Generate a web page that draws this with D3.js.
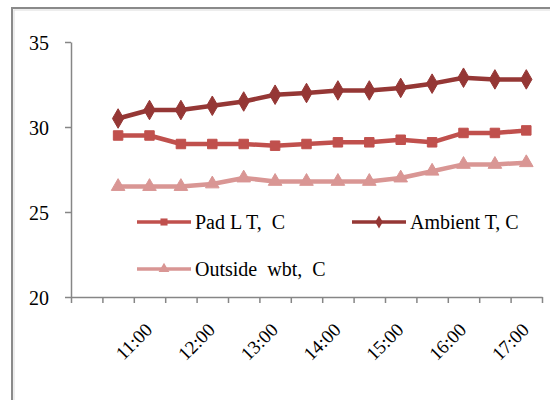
<!DOCTYPE html>
<html>
<head>
<meta charset="utf-8">
<script src="https://cdn.jsdelivr.net/npm/d3@7"></script>
<style>
  body { margin: 0; background: #fff; }
  svg text { font-family: "Liberation Serif", "Times New Roman", serif; fill: #000; }
</style>
</head>
<body>
<svg id="chart" width="550" height="400"></svg>
<script>
// Categories (half-hour steps, first slot empty)
const times = ["", "10:30", "11:00", "11:30", "12:00", "12:30", "13:00", "13:30",
  "14:00", "14:30", "15:00", "15:30", "16:00", "16:30", "17:00"];

// Series values, 10:30 .. 17:00
const padLT = [29.5, 29.5, 29.0, 29.0, 29.0, 28.9, 29.0, 29.1, 29.1, 29.25, 29.1, 29.65, 29.65, 29.8];
const ambientT = [30.5, 31.0, 31.0, 31.25, 31.5, 31.9, 32.0, 32.15, 32.15, 32.3, 32.55, 32.9, 32.8, 32.8];
const outsideWbt = [26.5, 26.5, 26.5, 26.65, 27.0, 26.8, 26.8, 26.8, 26.8, 27.0, 27.4, 27.8, 27.8, 27.9];

const yTicks = [20, 25, 30, 35];

const serif = "Liberation Serif, Times New Roman, serif";

const series = [
  { name: "Pad L T,  C", values: padLT, color: "#C0504D", marker: d3.symbolSquare, size: 90, lsize: 50 },
  { name: "Ambient T, C", values: ambientT, color: "#953735", marker: d3.symbolDiamond, size: 110, lsize: 50 },
  { name: "Outside  wbt,  C", values: outsideWbt, color: "#D99694", marker: d3.symbolTriangle, size: 80, lsize: 50 }
];

const plot = { left: 71, right: 542, top: 42, bottom: 297 };

const svg = d3.select("#chart");

// chart frame (runs past the right and bottom edges)
svg.append("rect")
  .attr("x", 12).attr("y", 8)
  .attr("width", 600).attr("height", 500)
  .attr("fill", "none")
  .attr("stroke", "#8a8a8a")
  .attr("stroke-width", 2);
svg.append("rect")
  .attr("x", 14).attr("y", 10)
  .attr("width", 600).attr("height", 500)
  .attr("fill", "none")
  .attr("stroke", "#dcdcdc")
  .attr("stroke-width", 1);

const x = d3.scaleBand()
  .domain(times)
  .range([plot.left, plot.right]);

const y = d3.scaleLinear()
  .domain([20, 35])
  .range([plot.bottom, plot.top]);

const cx = (t) => x(t) + x.bandwidth() / 2;

// y axis
const yAxis = svg.append("g")
  .attr("transform", "translate(" + plot.left + ",0)")
  .call(d3.axisLeft(y).tickValues(yTicks).tickSize(6).tickSizeOuter(0).tickPadding(16))
  .attr("font-family", serif)
  .attr("font-size", 20);
yAxis.selectAll("path, line").attr("stroke", "#868686").attr("stroke-width", 1.5);
yAxis.selectAll("text").attr("fill", "#000").attr("dy", "0.35em");

// x axis: tick marks on category boundaries
const xEdge = d3.scaleLinear().domain([0, times.length]).range([plot.left, plot.right]);
const xAxis = svg.append("g")
  .attr("transform", "translate(0," + plot.bottom + ")")
  .call(d3.axisBottom(xEdge).tickValues(d3.range(times.length + 1)).tickSize(6).tickSizeOuter(0).tickFormat(""));
xAxis.selectAll("path, line").attr("stroke", "#868686").attr("stroke-width", 1.5);

// rotated hour labels
svg.append("g")
  .attr("font-family", serif)
  .attr("font-size", 19)
  .selectAll(".xlab")
  .data(times.filter((t) => t.endsWith(":00")))
  .enter()
  .append("text")
  .attr("class", "xlab")
  .attr("transform", (t) => "translate(" + (cx(t) + 4) + "," + (plot.bottom + 34) + ") rotate(-45)")
  .attr("text-anchor", "end")
  .text((t) => t);

// lines and markers
const dataTimes = times.slice(1);
const line = d3.line()
  .x((d) => cx(d.t))
  .y((d) => y(d.v));

series.forEach((s) => {
  const pts = s.values.map((v, i) => ({ t: dataTimes[i], v: v }));
  svg.append("path")
    .datum(pts)
    .attr("d", line)
    .attr("fill", "none")
    .attr("stroke", s.color)
    .attr("stroke-width", 4.5)
    .attr("stroke-linejoin", "round");
  svg.append("g").selectAll("path")
    .data(pts)
    .enter()
    .append("path")
    .attr("d", d3.symbol().type(s.marker).size(s.size))
    .attr("transform", (d) => "translate(" + cx(d.t) + "," + y(d.v) + ")")
    .attr("fill", s.color)
    .attr("stroke", s.color)
    .attr("stroke-width", 1);
});

// legend
const legendPos = [
  { x: 137, y: 222 },
  { x: 352, y: 222 },
  { x: 137, y: 269 }
];

series.forEach((s, i) => {
  const p = legendPos[i];
  const g = svg.append("g").attr("transform", "translate(" + p.x + "," + p.y + ")");
  g.append("line")
    .attr("x1", 0).attr("x2", 54)
    .attr("stroke", s.color)
    .attr("stroke-width", 3.5);
  g.append("path")
    .attr("d", d3.symbol().type(s.marker).size(s.lsize))
    .attr("transform", "translate(27,0)")
    .attr("fill", s.color);
  g.append("text")
    .attr("x", 58)
    .attr("y", 7)
    .attr("font-family", serif)
    .attr("font-size", 20)
    .style("white-space", "pre")
    .text(s.name);
});
</script>
</body>
</html>
